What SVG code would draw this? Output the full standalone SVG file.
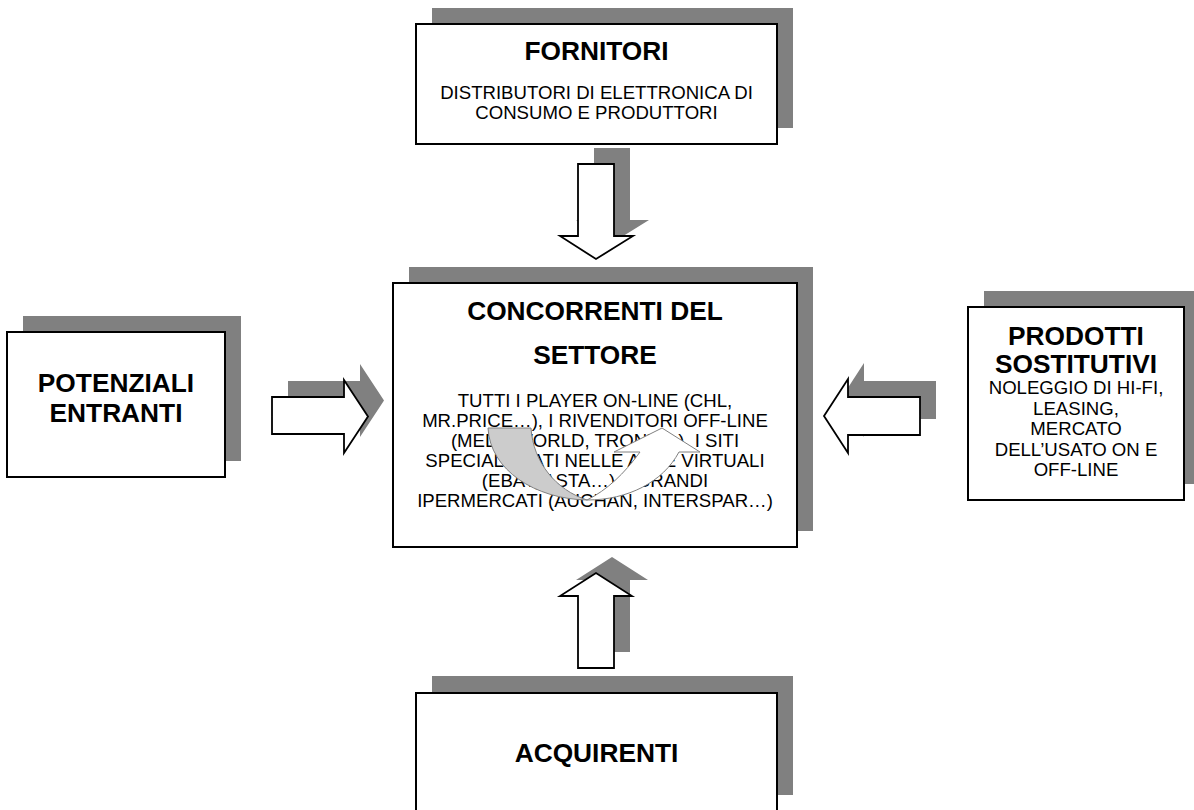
<svg xmlns="http://www.w3.org/2000/svg" width="1194" height="810" viewBox="0 0 1194 810">
  <style>
    .shadow { fill: #808080; stroke: none; }
    .box { fill: #ffffff; stroke: #000000; stroke-width: 2; }
    .arrow { fill: #ffffff; stroke: #000000; stroke-width: 1.8; stroke-linejoin: miter; }
    .title { font-family: "Liberation Sans", Arial, sans-serif; font-weight: bold; font-size: 26.3px; fill: #000; text-anchor: middle; }
    .body { font-family: "Liberation Sans", Arial, sans-serif; font-size: 18.6px; fill: #000; text-anchor: middle; }
  </style>
  <defs>
    <polygon id="arrowDown" points="578,164 614,164 614,236 633,236 596,259 560,236 578,236"/>
    <polygon id="arrowUp" points="578,668 614,668 614,596 632,596 596,573 560,596 578,596"/>
    <polygon id="arrowRight" points="272,397 344,397 344,380 368,416.5 344,453 344,434 272,434"/>
    <polygon id="arrowLeft" points="920,397 848,397 848,379 824,416 848,453 848,435 920,435"/>
  </defs>

  <rect width="1194" height="810" fill="#ffffff"/>

  <!-- supplier box -->
  <g id="fornitori">
    <rect class="shadow" x="432" y="8" width="361" height="120"/>
    <rect class="box" x="416" y="24" width="361" height="120"/>
    <text class="title" x="596.5" y="60">FORNITORI</text>
    <text class="body" x="596.5" y="99">DISTRIBUTORI DI ELETTRONICA DI</text>
    <text class="body" x="596.5" y="118.5">CONSUMO E PRODUTTORI</text>
  </g>

  <!-- new entrants box -->
  <g id="potenziali">
    <rect class="shadow" x="23" y="316" width="218" height="145"/>
    <rect class="box" x="7" y="332" width="218" height="145"/>
    <text class="title" x="116" y="392">POTENZIALI</text>
    <text class="title" x="116" y="422">ENTRANTI</text>
  </g>

  <!-- substitutes box -->
  <g id="sostitutivi">
    <rect class="shadow" x="984" y="291" width="216" height="193"/>
    <rect class="box" x="968" y="307" width="216" height="193"/>
    <text class="title" x="1076" y="345">PRODOTTI</text>
    <text class="title" x="1076" y="373">SOSTITUTIVI</text>
    <text class="body" x="1076" y="394">NOLEGGIO DI HI-FI,</text>
    <text class="body" x="1076" y="415">LEASING,</text>
    <text class="body" x="1076" y="435">MERCATO</text>
    <text class="body" x="1076" y="456">DELL’USATO ON E</text>
    <text class="body" x="1076" y="476">OFF-LINE</text>
  </g>

  <!-- buyers box -->
  <g id="acquirenti">
    <rect class="shadow" x="432" y="676" width="361" height="119"/>
    <rect class="box" x="416" y="693" width="361" height="119"/>
    <text class="title" x="596.5" y="762">ACQUIRENTI</text>
  </g>

  <!-- industry competitors box, with curved rivalry arrow -->
  <g id="concorrenti">
    <rect class="shadow" x="409" y="267" width="404" height="264"/>
    <rect class="box" x="393" y="283" width="404" height="264"/>
    <text class="title" x="595" y="320">CONCORRENTI DEL</text>
    <text class="title" x="595" y="364">SETTORE</text>
    <text class="body" x="595" y="407">TUTTI I PLAYER ON-LINE (CHL,</text>
    <text class="body" x="595" y="427">MR.PRICE…), I RIVENDITORI OFF-LINE</text>
    <text class="body" x="595" y="447">(MEDIAWORLD, TRONY…), I SITI</text>
    <text class="body" x="595" y="467">SPECIALIZZATI NELLE ASTE VIRTUALI</text>
    <text class="body" x="595" y="487">(EBAY, ASTA…), I GRANDI</text>
    <text class="body" x="595" y="507">IPERMERCATI (AUCHAN, INTERSPAR…)</text>
    <g id="rivalry" stroke="#808080" stroke-width="1">
      <path fill="#cccccc" d="M488,428 L531,428 C533,462 556,490 587,500 C535,499 490,470 488,428 Z"/>
      <path fill="#ffffff" d="M587,500 C628,500 663,482 679,452 L700,452 L662,428 L614,452 L640,452 C624,474 607,490 587,500 Z"/>
    </g>
  </g>

  <!-- block arrows towards the competitors -->
  <g id="connectors">
    <use href="#arrowDown" class="shadow" transform="translate(16,-16)"/>
    <use href="#arrowDown" class="arrow"/>
    <use href="#arrowUp" class="shadow" transform="translate(16,-16)"/>
    <use href="#arrowUp" class="arrow"/>
    <use href="#arrowRight" class="shadow" transform="translate(16,-16)"/>
    <use href="#arrowRight" class="arrow"/>
    <use href="#arrowLeft" class="shadow" transform="translate(16,-16)"/>
    <use href="#arrowLeft" class="arrow"/>
  </g>
</svg>
